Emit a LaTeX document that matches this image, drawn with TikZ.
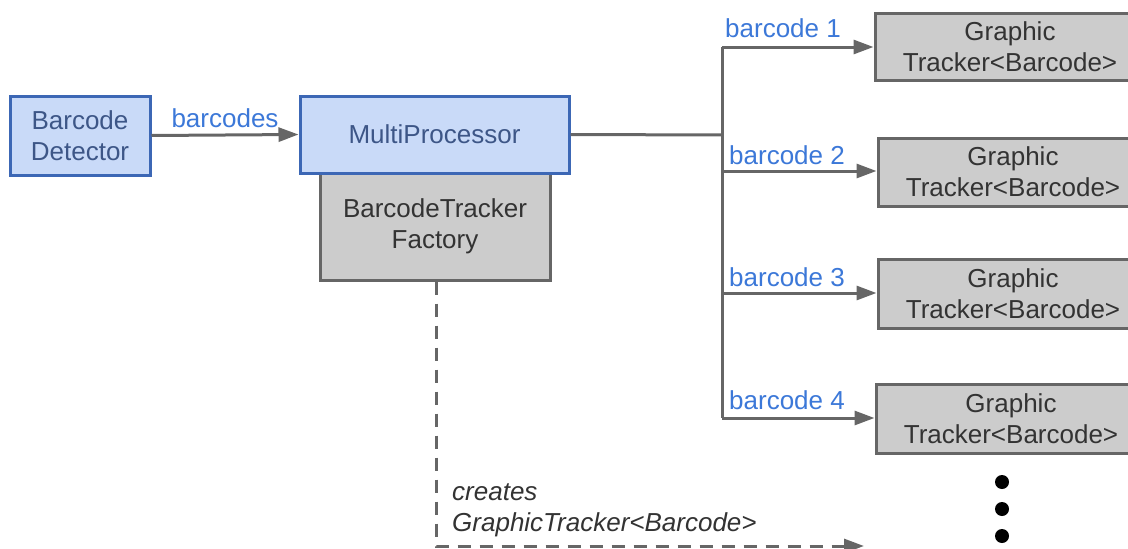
\documentclass[tikz,border=0pt]{standalone}
\usepackage{fontspec}
\setmainfont{Liberation Sans}
\usetikzlibrary{arrows.meta,positioning}
\definecolor{bfill}{HTML}{C9DAF8}
\definecolor{bline}{HTML}{3C67B5}
\definecolor{btext}{HTML}{3D5687}
\definecolor{lblue}{HTML}{3C78D8}
\definecolor{gfill}{HTML}{CCCCCC}
\definecolor{gline}{HTML}{666666}
\definecolor{gtext}{HTML}{333333}
\begin{document}
\begin{tikzpicture}[x=1pt,y=-1pt,
  font=\fontsize{26}{31}\selectfont,
  bluebox/.style={draw=bline,fill=bfill,line width=3pt,text=btext,align=center,inner sep=0pt},
  graybox/.style={draw=gline,fill=gfill,line width=3pt,text=gtext,align=center,inner sep=0pt},
  conn/.style={draw=gline,line width=3pt},
  arr/.style={conn,-{Triangle[length=20pt,width=14pt]}},
  lbl/.style={text=lblue,inner sep=0pt,anchor=base west},
  dot/.style={circle,fill=black,inner sep=0pt,minimum size=14pt}]
\useasboundingbox (0,0) rectangle (1128,549);
\clip (0,0) rectangle (1128,549);
% left blocks
\node[bluebox,minimum width=140pt,minimum height=79pt] (det) at (80,135.5) {Barcode\\Detector};
\node[graybox,minimum width=230pt,minimum height=107pt] (fac) at (435,226.5) {BarcodeTracker\\Factory};
\node[bluebox,minimum width=269pt,minimum height=77pt] (mp) at (434.5,134.5) {MultiProcessor};
% trackers
\node[graybox,minimum width=270pt,minimum height=67pt] (t1) at (1010,46.5) {Graphic\\Tracker<Barcode>};
\node[graybox,minimum width=270pt,minimum height=68pt] (t2) at (1013,172) {Graphic\\Tracker<Barcode>};
\node[graybox,minimum width=270pt,minimum height=69pt] (t3) at (1013,293.5) {Graphic\\Tracker<Barcode>};
\node[graybox,minimum width=270pt,minimum height=69pt] (t4) at (1011,418.5) {Graphic\\Tracker<Barcode>};
% dots
\node[dot] (d1) at (1002,482) {};
\node[dot] (d2) at (1002,509) {};
\node[dot] (d3) at (1002,536) {};
% connectors
\draw[arr] (det.east) -- node[lbl,anchor=base,above=6pt] {barcodes} (mp.west);
\coordinate (split) at (722,135);
\coordinate (top) at (722,47);
\coordinate (bot) at (722,418);
\draw[conn] (mp.east) -- (split);
\draw[conn] (top) -- (bot);
\draw[arr] (top) -- (t1.west |- top);
\draw[arr] (722,171) -- (t2.west |- 0,171);
\draw[arr] (722,293) -- (t3.west |- 0,293);
\draw[arr] (bot) -- (t4.west |- bot);
\node[lbl] (l1) at (725,37) {barcode 1};
\node[lbl] (l2) at (729,164) {barcode 2};
\node[lbl] (l3) at (729,286) {barcode 3};
\node[lbl] (l4) at (729,409) {barcode 4};
% dashed creates
\coordinate (corner) at (436,546);
\coordinate (dend) at (864,546);
\draw[arr,dashed,dash pattern=on 13pt off 9pt] (fac.south -| corner) -- (corner) -- (dend);
\node[anchor=base west,inner sep=0pt,text=gtext,font=\fontsize{26}{31}\selectfont\itshape,align=left] (cr) at (452,531) {creates\\GraphicTracker<Barcode>};
\end{tikzpicture}
\end{document}
